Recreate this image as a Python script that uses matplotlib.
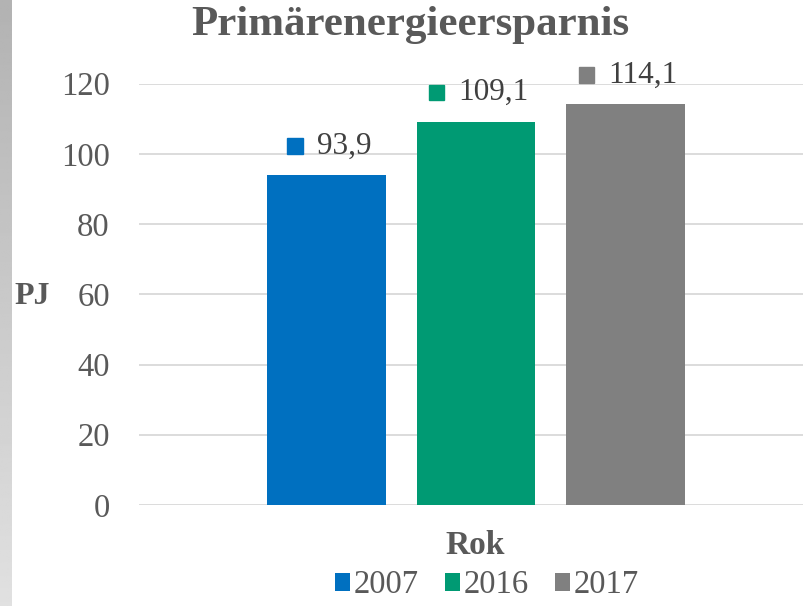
import numpy as np
import matplotlib
matplotlib.use("Agg")
import matplotlib.pyplot as plt
from matplotlib.patches import Rectangle
from matplotlib.offsetbox import DrawingArea, TextArea, HPacker, AnnotationBbox

plt.rcParams['font.family'] = ['Liberation Serif', 'DejaVu Serif']

# data
years = ['2007', '2016', '2017']
values = [93.9, 109.1, 114.1]
colors = ['#0070C0', '#009A73', '#808080']
yticks = [0, 20, 40, 60, 80, 100, 120]

text_col = '#595959'

fig = plt.figure(figsize=(8.04, 6.06), dpi=100)

# gray strip on the left edge
strip = fig.add_axes([0, 0, 12 / 804, 1])
grad = np.linspace(0.70, 0.88, 256).reshape(-1, 1)
strip.imshow(grad, cmap='gray', vmin=0, vmax=1, aspect='auto')
strip.axis('off')

ax = fig.add_axes([139 / 804, (606 - 505) / 606, (804 - 139) / 804, (505 - 83.5) / 606])
x = np.arange(len(years))
for i, (yr, v, c) in enumerate(zip(years, values, colors)):
    ax.bar(i, v, width=0.79, color=c, label=yr, zorder=3)

ax.set_xlim(-1.254, 3.194)
ax.set_ylim(0, 120)
ax.set_yticks(yticks)
ax.set_xticks([])
ax.grid(axis='y', color='#d9d9d9', lw=1.3, zorder=0)
for s in ax.spines.values():
    s.set_visible(False)
ax.tick_params(axis='y', length=0, pad=21, labelsize=23.5, labelcolor=text_col)

# value labels with colored square in front
for i, (v, c) in enumerate(zip(values, colors)):
    da = DrawingArea(11, 11, 0, 0)
    da.add_artist(Rectangle((0, 0), 11, 11, color=c))
    ta = TextArea(f"{v:.1f}".replace('.', ','),
                  textprops=dict(fontsize=22.5, color='#404040'))
    box = HPacker(children=[da, ta], pad=0, sep=10, align='center')
    ab = AnnotationBbox(box, (i, v), xybox=(2, 21), boxcoords='offset points',
                        frameon=False, annotation_clip=False, box_alignment=(0.5, 0.5))
    ax.add_artist(ab)

fig.text(0.51, 1 - 25 / 606, 'Primärenergieersparnis', ha='center', va='center',
         fontsize=31, fontweight='bold', color=text_col)
fig.text(32 / 804, 1 - 297 / 606, 'PJ', ha='center', va='center',
         fontsize=23, fontweight='bold', color=text_col)
fig.text(475 / 804, 1 - 545 / 606, 'Rok', ha='center', va='center',
         fontsize=24, fontweight='bold', color=text_col)

leg = fig.legend(loc='center', bbox_to_anchor=(487 / 804, 1 - 585 / 606), ncol=3,
                 frameon=False, fontsize=23.5, handlelength=0.46, handleheight=0.46,
                 handletextpad=0.12, columnspacing=0.8, borderpad=0)
for t in leg.get_texts():
    t.set_color(text_col)

fig.savefig('out.png', dpi=100)
